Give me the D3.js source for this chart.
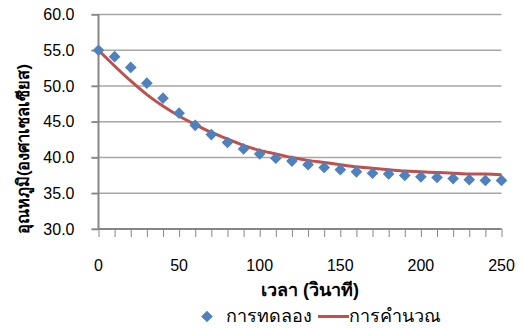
<!DOCTYPE html>
<html>
<head>
<meta charset="utf-8">
<script src="https://cdn.jsdelivr.net/npm/d3@7"></script>
<style>
  body { margin: 0; background: #fff; }
  text { font-family: "Liberation Sans", Arial, sans-serif; }
</style>
</head>
<body>
<svg id="chart" width="524" height="329"></svg>
<script>
// time in seconds
var times = [0, 10, 20, 30, 40, 50, 60, 70, 80, 90, 100, 110, 120, 130, 140, 150,
  160, 170, 180, 190, 200, 210, 220, 230, 240, 250];
// measured temperature (experiment)
var experiment = [55.0, 54.1, 52.6, 50.4, 48.3, 46.2, 44.5, 43.2, 42.1, 41.2, 40.5, 39.9,
  39.5, 39.0, 38.6, 38.3, 38.0, 37.8, 37.7, 37.5, 37.3, 37.2, 37.05, 36.9, 36.8, 36.8];
// calculated temperature
var calculated = [55.0, 52.8, 50.7, 48.8, 47.2, 45.8, 44.6, 43.5, 42.6, 41.7, 41.0, 40.5,
  40.0, 39.6, 39.3, 39.0, 38.7, 38.5, 38.3, 38.1, 38.0, 37.9, 37.8, 37.7, 37.7, 37.6];
var yTicks = [30, 35, 40, 45, 50, 55, 60];
var xTicks = [0, 50, 100, 150, 200, 250];
var seriesNames = ["การทดลอง", "การคำนวณ"];
var axisTitles = ["เวลา (วินาที)", "อุณหภูมิ(องศาเซลเซียส)"];

var svg = d3.select("#chart");

var x = d3.scaleLinear().domain([0, 250]).range([98.5, 501.5]);
var y = d3.scaleLinear().domain([30, 60]).range([229, 14.5]);

var blue = "#4f81bd", red = "#c0504d";

// gridlines
svg.append("g")
  .selectAll("line")
  .data(yTicks)
  .enter().append("line")
  .attr("x1", x(0) - 7)
  .attr("x2", x(250))
  .attr("y1", function (d) { return y(d); })
  .attr("y2", function (d) { return y(d); })
  .attr("stroke", "#a6a6a6")
  .attr("stroke-width", 1.5);

// x axis with minor ticks every 10
var xAxis = svg.append("g")
  .attr("transform", "translate(0," + y(30) + ")")
  .call(d3.axisBottom(x).tickValues(times).tickSize(8).tickFormat(""));
xAxis.select(".domain").attr("stroke", "#868686").attr("stroke-width", 2)
  .attr("d", "M" + x(0) + ",0H" + x(250));
xAxis.selectAll(".tick line").attr("stroke", "#868686").attr("stroke-width", 1);

svg.append("g")
  .selectAll("text")
  .data(xTicks)
  .enter().append("text")
  .attr("x", function (d) { return x(d); })
  .attr("y", 271)
  .attr("text-anchor", "middle")
  .attr("font-size", 16)
  .attr("fill", "#000")
  .text(function (d) { return d; });

// y axis
var yAxis = svg.append("g")
  .attr("transform", "translate(" + x(0) + ",0)")
  .call(d3.axisLeft(y).tickValues(yTicks).tickSize(7).tickFormat(d3.format(".1f")));
yAxis.select(".domain").attr("stroke", "#868686").attr("stroke-width", 2)
  .attr("d", "M0," + y(60) + "V" + y(30));
yAxis.selectAll(".tick line").attr("stroke", "#868686").attr("stroke-width", 1.5);
yAxis.selectAll(".tick text")
  .attr("x", -24)
  .attr("font-size", 16)
  .attr("font-family", "Liberation Sans, Arial, sans-serif")
  .attr("fill", "#000");

// calculated line
var line = d3.line()
  .x(function (d, i) { return x(times[i]); })
  .y(function (d) { return y(d); })
  .curve(d3.curveMonotoneX);

svg.append("path")
  .datum(calculated)
  .attr("fill", "none")
  .attr("stroke", red)
  .attr("stroke-width", 3)
  .attr("d", line);

// experiment diamonds
var diamond = d3.symbol().type(d3.symbolSquare).size(68);
svg.append("g")
  .selectAll("path")
  .data(experiment)
  .enter().append("path")
  .attr("d", diamond)
  .attr("transform", function (d, i) {
    return "translate(" + x(times[i]) + "," + y(d) + ") rotate(45)";
  })
  .attr("fill", blue);

// axis titles
svg.append("text")
  .attr("x", 310)
  .attr("y", 296)
  .attr("text-anchor", "middle")
  .attr("font-size", 18)
  .attr("font-weight", "bold")
  .text(axisTitles[0]);

svg.append("text")
  .attr("transform", "translate(29,149) rotate(-90)")
  .attr("text-anchor", "middle")
  .attr("font-size", 16.5)
  .attr("font-weight", "bold")
  .text(axisTitles[1]);

// legend
var legend = svg.append("g");
legend.append("path")
  .attr("d", diamond)
  .attr("transform", "translate(207,316.5) rotate(45)")
  .attr("fill", blue);
legend.append("text")
  .attr("x", 226)
  .attr("y", 322)
  .attr("font-size", 18)
  .text(seriesNames[0]);
legend.append("line")
  .attr("x1", 318).attr("x2", 349)
  .attr("y1", 316.5).attr("y2", 316.5)
  .attr("stroke", red)
  .attr("stroke-width", 3);
legend.append("text")
  .attr("x", 349)
  .attr("y", 322)
  .attr("font-size", 18)
  .text(seriesNames[1]);
</script>
</body>
</html>
